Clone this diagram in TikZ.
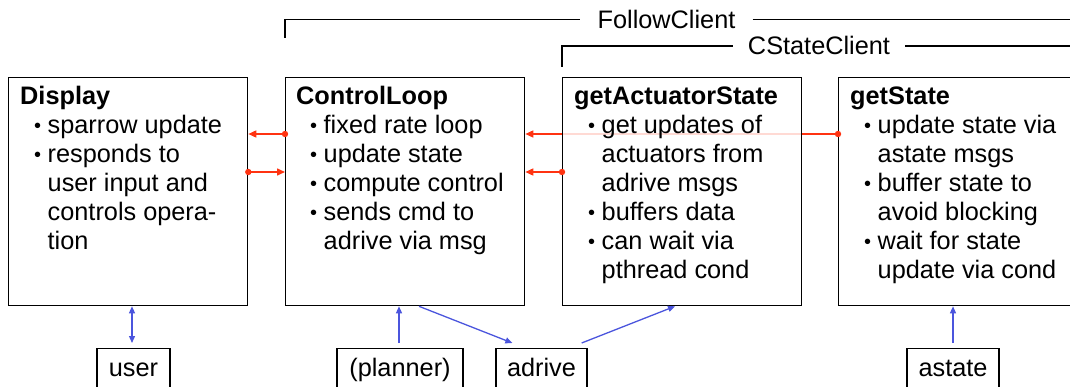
\documentclass[tikz,border=0pt]{standalone}
\usepackage{fontspec}
\setmainfont{Liberation Sans}
\usetikzlibrary{arrows.meta}
\definecolor{linkred}{HTML}{FF3311}
\definecolor{linkblue}{HTML}{4B55DD}
% bullet item and hanging indent for the task lists
\newcommand{\blt}{\makebox[27.5pt][l]{\hspace{14pt}\raisebox{1.3pt}{\fontsize{20pt}{20pt}\selectfont\textbullet}}}
\newcommand{\ind}{\hspace*{27.5pt}}
\newcommand{\boxtext}[1]{\parbox[t]{230pt}{\fontsize{25.3pt}{29pt}\selectfont #1}}
\tikzset{
  taskbox/.style={draw, line width=1.3pt, minimum width=239pt, minimum height=228pt,
    anchor=north west, inner sep=0pt},
  tasktext/.style={anchor=base west, inner sep=0pt},
  iobox/.style={draw, line width=1.3pt, anchor=north, inner xsep=0pt, inner ysep=10.5pt,
    text height=17.5pt, text depth=6pt, font=\fontsize{25.3pt}{29pt}\selectfont},
  grouplabel/.style={anchor=base, inner ysep=0pt, font=\fontsize{25.3pt}{29pt}\selectfont},
  bracket/.style={draw=black, line width=1.3pt},
  msglink/.style={draw=linkred, line width=1.5pt, -{Triangle[length=8pt,width=7pt]}},
  iolink/.style={draw=linkblue, line width=1.3pt},
  bluetip/.style={-{Triangle[length=7pt,width=6pt]}},
}
\begin{document}
\begin{tikzpicture}[x=1pt,y=-1pt]
\useasboundingbox (0,0) rectangle (1070,387);
\coordinate (rgt) at (1070,0);
\coordinate (r1) at (0,134);
\coordinate (r2) at (0,172);

% thread boxes
\node[taskbox] (disp) at (8,77) {};
\node[taskbox] (ctl) at (285,77) {};
\node[taskbox, minimum width=260pt] (gs) at (838,77) {};

% message links, upper row
\draw[msglink] (ctl.west |- r1) -- (disp.east |- r1);
\fill[linkred] (ctl.west |- r1) circle[radius=3.2pt];
\draw[msglink] (gs.west |- r1) -- (ctl.east |- r1);
\fill[linkred] (gs.west |- r1) circle[radius=3.2pt];

% actuator thread box, laid over the pass-through link
\node[taskbox, fill=white, fill opacity=0.82, text opacity=1] (gas) at (562,77) {};

% message links, lower row
\draw[msglink] (disp.east |- r2) -- (ctl.west |- r2);
\fill[linkred] (disp.east |- r2) circle[radius=3.2pt];
\draw[msglink] (gas.west |- r2) -- (ctl.east |- r2);
\fill[linkred] (gas.west |- r2) circle[radius=3.2pt];

% box contents
\node[tasktext] (dispT) at ([shift={(12,28)}]disp.north west) {\boxtext{%
  \textbf{Display}\\
  \blt sparrow update\\
  \blt responds to\\
  \ind user input and\\
  \ind controls opera-\\
  \ind tion}};
\node[tasktext] (ctlT) at ([shift={(11,28)}]ctl.north west) {\boxtext{%
  \textbf{ControlLoop}\\
  \blt fixed rate loop\\
  \blt update state\\
  \blt compute control\\
  \blt sends cmd to\\
  \ind adrive via msg}};
\node[tasktext] (gasT) at ([shift={(12,28)}]gas.north west) {\boxtext{%
  \textbf{getActuatorState}\\
  \blt get updates of\\
  \ind actuators from\\
  \ind adrive msgs\\
  \blt buffers data\\
  \blt can wait via\\
  \ind pthread cond}};
\node[tasktext] (gsT) at ([shift={(12,28)}]gs.north west) {\boxtext{%
  \textbf{getState}\\
  \blt update state via\\
  \ind astate msgs\\
  \blt buffer state to\\
  \ind avoid blocking\\
  \blt wait for state\\
  \ind update via cond}};

% client groupings
\node[grouplabel, inner xsep=17pt] (fc) at (666.5,28.5) {FollowClient};
\coordinate (fcFoot) at ([shift={(0,-39)}]ctl.north west);
\draw[bracket] (fcFoot) |- (fc.west);
\draw[bracket] (fc.east) -- (fc.east -| rgt);

\node[grouplabel, inner xsep=15pt] (csc) at (819,55) {CStateClient};
\coordinate (cscFoot) at ([shift={(0,-10)}]gas.north west);
\draw[bracket] (cscFoot) |- (csc.west);
\draw[bracket] (csc.east) -- (csc.east -| rgt);

% external processes
\node[iobox, minimum width=73pt] (user) at (133.5,348) {user};
\node[iobox, minimum width=126pt] (plan) at (400,348) {(planner)};
\node[iobox, minimum width=91pt] (adr) at (541.5,348) {adrive};
\node[iobox, minimum width=92pt] (ast) at (953,348) {astate};

% external links
\draw[iolink, {Triangle[length=7pt,width=6pt]}-{Triangle[length=7pt,width=6pt]}, shorten >=5pt]
  ([xshift=-1.5pt]user.north |- disp.south) -- ([xshift=-1.5pt]user.north);
\draw[iolink, bluetip, shorten <=5pt] ([xshift=-1pt]plan.north) -- ([xshift=-1pt]plan.north |- ctl.south);
\draw[iolink, bluetip] ([shift={(134,0)}]ctl.south west) -- ([shift={(17,-5)}]adr.north west);
\draw[iolink, bluetip] ([shift={(-6,-5)}]adr.north east) -- ([shift={(113,0)}]gas.south west);
\draw[iolink, bluetip, shorten <=5pt] (ast.north) -- (ast.north |- gs.south);
\end{tikzpicture}
\end{document}
